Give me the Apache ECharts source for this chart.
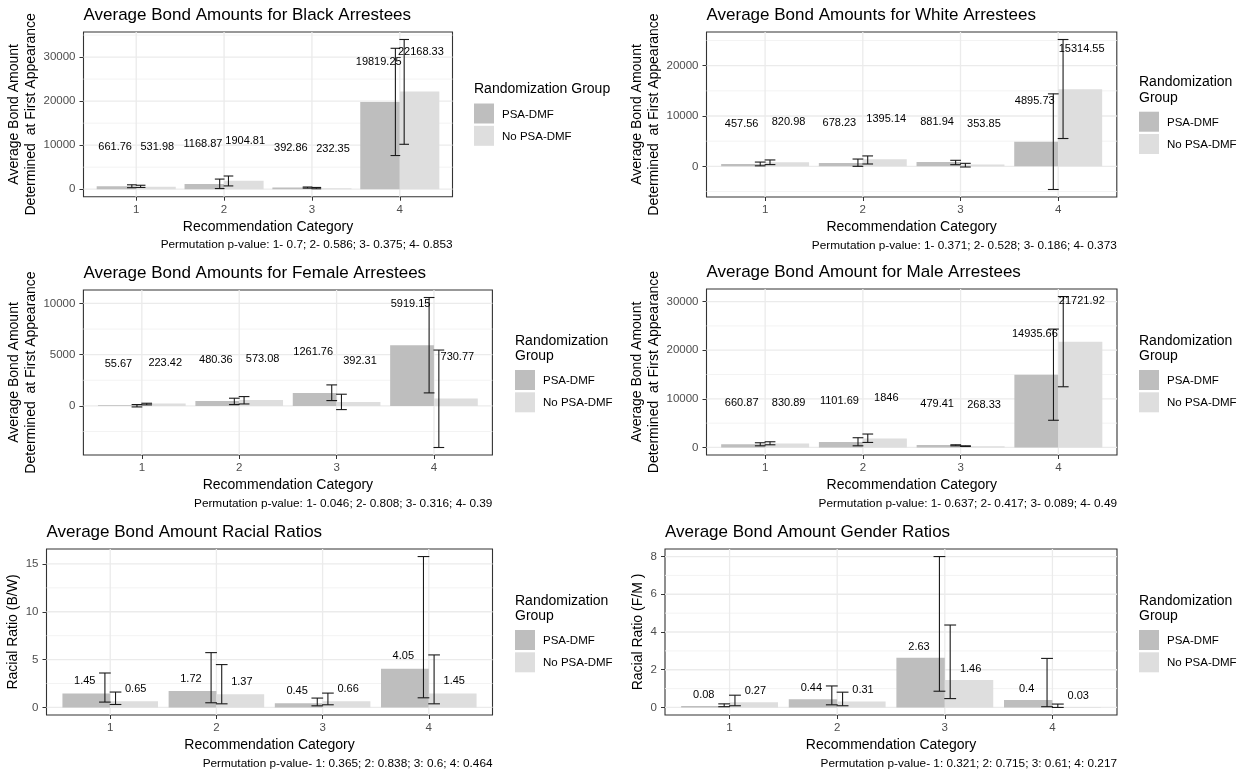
<!DOCTYPE html>
<html>
<head>
<meta charset="utf-8">
<title>Average Bond Amounts</title>
<script src="https://cdn.jsdelivr.net/npm/echarts@6/dist/echarts.min.js"></script>
<style>
  html, body { margin: 0; padding: 0; background: #ffffff; }
  #chart { width: 1245px; height: 774px; }
</style>
</head>
<body>
<div id="chart"></div>
<script>
// ---------------- data ----------------
const categories = [1, 2, 3, 4];
const groupNames = ['PSA-DMF', 'No PSA-DMF'];

// Black arrestees
const blackPsa = [661.76, 1168.87, 392.86, 19819.25];
const blackNoPsa = [531.98, 1904.81, 232.35, 22168.33];
const blackPsaLow = [350, 150, 250, 7650];
const blackPsaHigh = [1000, 2300, 500, 32000];
const blackNoPsaLow = [400, 750, 100, 10200];
const blackNoPsaHigh = [900, 3000, 400, 34000];
const blackTicks = [0, 10000, 20000, 30000];
const blackMinorTicks = [5000, 15000, 25000, 35000];

// White arrestees
const whitePsa = [457.56, 678.23, 881.94, 4895.73];
const whiteNoPsa = [820.98, 1395.14, 353.85, 15314.55];
const whitePsaLow = [100, 0, 330, -4600];
const whitePsaHigh = [850, 1450, 1200, 14400];
const whiteNoPsaLow = [350, 470, -130, 5530];
const whiteNoPsaHigh = [1270, 2070, 600, 25200];
const whiteTicks = [0, 10000, 20000];
const whiteMinorTicks = [-5000, 5000, 15000, 25000];

// Female arrestees
const femalePsa = [55.67, 480.36, 1261.76, 5919.15];
const femaleNoPsa = [223.42, 573.08, 392.31, 730.77];
const femalePsaLow = [-100, 130, 520, 1270];
const femalePsaHigh = [130, 750, 2050, 10580];
const femaleNoPsaLow = [100, 190, -360, -4060];
const femaleNoPsaHigh = [260, 910, 1140, 5450];
const femaleTicks = [0, 5000, 10000];
const femaleMinorTicks = [-2500, 2500, 7500];

// Male arrestees
const malePsa = [660.87, 1101.69, 479.41, 14935.66];
const maleNoPsa = [830.89, 1846, 268.33, 21721.92];
const malePsaLow = [340, 340, 340, 5590];
const malePsaHigh = [965, 2000, 550, 24340];
const maleNoPsaLow = [550, 1030, 200, 12480];
const maleNoPsaHigh = [1170, 2760, 340, 31030];
const maleTicks = [0, 10000, 20000, 30000];
const maleMinorTicks = [5000, 15000, 25000];

// Racial ratios (B/W)
const racialPsa = [1.45, 1.72, 0.45, 4.05];
const racialNoPsa = [0.65, 1.37, 0.66, 1.45];
const racialPsaLow = [0.56, 0.49, 0.17, 1.01];
const racialPsaHigh = [3.6, 5.73, 0.98, 15.77];
const racialNoPsaLow = [0.31, 0.38, 0.28, 0.38];
const racialNoPsaHigh = [1.61, 4.48, 1.5, 5.49];
const racialTicks = [0, 5, 10, 15];
const racialMinorTicks = [2.5, 7.5, 12.5];

// Gender ratios (F/M)
const genderPsa = [0.08, 0.44, 2.63, 0.4];
const genderNoPsa = [0.27, 0.31, 1.46, 0.03];
const genderPsaLow = [0.04, 0.14, 0.86, 0.04];
const genderPsaHigh = [0.19, 1.14, 8.0, 2.6];
const genderNoPsaLow = [0.09, 0.09, 0.47, 0.0];
const genderNoPsaHigh = [0.65, 0.81, 4.37, 0.18];
const genderTicks = [0, 2, 4, 6, 8];
const genderMinorTicks = [1, 3, 5, 7];

const panelTitles = [
  'Average Bond Amounts for Black Arrestees',
  'Average Bond Amounts for White Arrestees',
  'Average Bond Amounts for Female Arrestees',
  'Average Bond Amount for Male Arrestees',
  'Average Bond Amount Racial Ratios',
  'Average Bond Amount Gender Ratios'
];
const yAxisNames = [
  'Average Bond Amount\nDetermined  at First Appearance',
  'Average Bond Amount\nDetermined  at First Appearance',
  'Average Bond Amount\nDetermined  at First Appearance',
  'Average Bond Amount\nDetermined  at First Appearance',
  'Racial Ratio (B/W)',
  'Racial Ratio (F/M )'
];
const captions = [
  'Permutation p-value: 1- 0.7; 2- 0.586; 3- 0.375; 4- 0.853',
  'Permutation p-value: 1- 0.371; 2- 0.528; 3- 0.186; 4- 0.373',
  'Permutation p-value: 1- 0.046; 2- 0.808; 3- 0.316; 4- 0.39',
  'Permutation p-value: 1- 0.637; 2- 0.417; 3- 0.089; 4- 0.49',
  'Permutation p-value- 1: 0.365; 2: 0.838; 3: 0.6; 4: 0.464',
  'Permutation p-value- 1: 0.321; 2: 0.715; 3: 0.61; 4: 0.217'
];
const xAxisName = 'Recommendation Category';
const legendTitleOneLine = 'Randomization Group';
const legendTitleTwoLines = ['Randomization', 'Group'];

// ---------------- layout / style ----------------
const FONT = '"Liberation Sans", Arial, Helvetica, sans-serif';
const FILL = ['#BEBEBE', '#DEDEDE'];
const BAR_HALF = 0.45;      // dodged bar width per group (category units)
const ERR_SHIFT = 0.05;     // error bar dodge offset
const CAP_HALF = 0.055;     // half width of error bar caps
const LABEL_SHIFT = 0.24;   // text label horizontal offset

const panels = [
  { box: { left: 83.5, top: 32, width: 369, height: 164.7 }, nameGap: 41, labelLift: 9000,
    psa: blackPsa, noPsa: blackNoPsa, psaLow: blackPsaLow, psaHigh: blackPsaHigh,
    noLow: blackNoPsaLow, noHigh: blackNoPsaHigh, major: blackTicks, minor: blackMinorTicks,
    legend: { x: 474, titleY: [89.5], keyY: 103.5 } },
  { box: { left: 706.5, top: 32, width: 410.3, height: 165 }, nameGap: 39, labelLift: 8000,
    psa: whitePsa, noPsa: whiteNoPsa, psaLow: whitePsaLow, psaHigh: whitePsaHigh,
    noLow: whiteNoPsaLow, noHigh: whiteNoPsaHigh, major: whiteTicks, minor: whiteMinorTicks,
    legend: { x: 1139, titleY: [81.7, 97.7], keyY: 111.7 } },
  { box: { left: 83.4, top: 290, width: 409, height: 165 }, nameGap: 41, labelLift: 4000,
    psa: femalePsa, noPsa: femaleNoPsa, psaLow: femalePsaLow, psaHigh: femalePsaHigh,
    noLow: femaleNoPsaLow, noHigh: femaleNoPsaHigh, major: femaleTicks, minor: femaleMinorTicks,
    legend: { x: 515, titleY: [341, 356.5], keyY: 370 } },
  { box: { left: 706.5, top: 289, width: 410.5, height: 166 }, nameGap: 39, labelLift: 8400,
    psa: malePsa, noPsa: maleNoPsa, psaLow: malePsaLow, psaHigh: malePsaHigh,
    noLow: maleNoPsaLow, noHigh: maleNoPsaHigh, major: maleTicks, minor: maleMinorTicks,
    legend: { x: 1139, titleY: [341, 356.5], keyY: 370 } },
  { box: { left: 46.5, top: 549, width: 446, height: 166 }, nameGap: 21, labelLift: 1.28,
    psa: racialPsa, noPsa: racialNoPsa, psaLow: racialPsaLow, psaHigh: racialPsaHigh,
    noLow: racialNoPsaLow, noHigh: racialNoPsaHigh, major: racialTicks, minor: racialMinorTicks,
    legend: { x: 515, titleY: [601, 616.5], keyY: 630 } },
  { box: { left: 665, top: 549, width: 452, height: 166 }, nameGap: 16, labelLift: 0.6,
    psa: genderPsa, noPsa: genderNoPsa, psaLow: genderPsaLow, psaHigh: genderPsaHigh,
    noLow: genderNoPsaLow, noHigh: genderNoPsaHigh, major: genderTicks, minor: genderMinorTicks,
    legend: { x: 1139, titleY: [601, 616.5], keyY: 630 } }
];

// y range: data extent (incl. zero and error bars) expanded by 5% on each side
function yRange(p) {
  const lo = Math.min(0, ...p.psaLow, ...p.noLow, ...p.psa, ...p.noPsa);
  const hi = Math.max(...p.psaHigh, ...p.noHigh, ...p.psa, ...p.noPsa);
  const pad = (hi - lo) * 0.05;
  return [lo - pad, hi + pad];
}

function gridLinesRenderer(major, minor) {
  return function (params, api) {
    const cs = params.coordSys;
    const children = [];
    minor.forEach(function (v) {
      const y = api.coord([1, v])[1];
      children.push({ type: 'line', shape: { x1: cs.x, y1: y, x2: cs.x + cs.width, y2: y },
        style: { stroke: '#F2F2F2', lineWidth: 0.9 } });
    });
    major.forEach(function (v) {
      const y = api.coord([1, v])[1];
      children.push({ type: 'line', shape: { x1: cs.x, y1: y, x2: cs.x + cs.width, y2: y },
        style: { stroke: '#EBEBEB', lineWidth: 1.3 } });
    });
    categories.forEach(function (c) {
      const x = api.coord([c, 0])[0];
      children.push({ type: 'line', shape: { x1: x, y1: cs.y, x2: x, y2: cs.y + cs.height },
        style: { stroke: '#EBEBEB', lineWidth: 1.3 } });
    });
    return { type: 'group', children: children };
  };
}

function barRenderer(g) {
  return function (params, api) {
    const c = api.value(0), v = api.value(1);
    const x0 = c + (g === 0 ? -BAR_HALF : 0);
    const p0 = api.coord([x0, 0]);
    const p1 = api.coord([x0 + BAR_HALF, v]);
    return { type: 'rect',
      shape: { x: p0[0], y: Math.min(p0[1], p1[1]), width: p1[0] - p0[0], height: Math.abs(p0[1] - p1[1]) },
      style: { fill: FILL[g] } };
  };
}

function errRenderer(g) {
  return function (params, api) {
    const c = api.value(0), lo = api.value(1), hi = api.value(2);
    const xc = c + (g === 0 ? -ERR_SHIFT : ERR_SHIFT);
    const a = api.coord([xc, lo]), b = api.coord([xc, hi]);
    const l = api.coord([xc - CAP_HALF, lo])[0], r = api.coord([xc + CAP_HALF, lo])[0];
    const st = { stroke: '#1A1A1A', lineWidth: 1.1 };
    return { type: 'group', children: [
      { type: 'line', shape: { x1: a[0], y1: a[1], x2: b[0], y2: b[1] }, style: st },
      { type: 'line', shape: { x1: l, y1: a[1], x2: r, y2: a[1] }, style: st },
      { type: 'line', shape: { x1: l, y1: b[1], x2: r, y2: b[1] }, style: st }
    ] };
  };
}

function labelRenderer(g, lift) {
  return function (params, api) {
    const c = api.value(0), v = api.value(1);
    const p = api.coord([c + (g === 0 ? -LABEL_SHIFT : LABEL_SHIFT), v + lift]);
    return { type: 'text', x: p[0], y: p[1],
      style: { text: String(v), fill: '#000000', fontSize: 11, fontFamily: FONT,
        align: 'center', verticalAlign: 'middle' } };
  };
}

function plainNumber(v) { return String(v); }

const grids = [], xAxes = [], yAxes = [], series = [], graphics = [];

panels.forEach(function (p, i) {
  const b = p.box;
  const range = yRange(p);
  grids.push({ left: b.left, top: b.top, width: b.width, height: b.height,
    show: true, borderColor: '#333333', borderWidth: 1.1, backgroundColor: 'transparent',
    containLabel: false });

  xAxes.push({ type: 'value', gridIndex: i, min: 0.4, max: 4.6,
    axisLine: { show: false, onZero: false },
    splitLine: { show: false },
    axisTick: { show: true, customValues: categories, length: 4, lineStyle: { color: '#333333', width: 1 } },
    axisLabel: { customValues: categories, formatter: plainNumber, color: '#4D4D4D',
      fontSize: 11.5, fontFamily: FONT, margin: 7 },
    name: xAxisName, nameLocation: 'middle', nameGap: 22,
    nameTextStyle: { color: '#000000', fontSize: 14, fontFamily: FONT, lineHeight: 16 } });

  yAxes.push({ type: 'value', gridIndex: i, min: range[0], max: range[1],
    axisLine: { show: false, onZero: false },
    splitLine: { show: false },
    axisTick: { show: true, customValues: p.major, length: 4, lineStyle: { color: '#333333', width: 1 } },
    axisLabel: { customValues: p.major, formatter: plainNumber, color: '#4D4D4D',
      fontSize: 11.5, fontFamily: FONT, margin: 8 },
    name: yAxisNames[i], nameLocation: 'middle', nameGap: p.nameGap,
    nameTextStyle: { color: '#000000', fontSize: 14, fontFamily: FONT, lineHeight: 17 } });

  series.push({ type: 'custom', xAxisIndex: i, yAxisIndex: i, silent: true, z: 1,
    data: [[1, 0]], renderItem: gridLinesRenderer(p.major, p.minor) });

  const values = [p.psa, p.noPsa];
  const lows = [p.psaLow, p.noLow];
  const highs = [p.psaHigh, p.noHigh];
  [0, 1].forEach(function (g) {
    series.push({ type: 'custom', name: groupNames[g], xAxisIndex: i, yAxisIndex: i, z: 2,
      encode: { x: 0, y: 1 },
      data: categories.map(function (c, k) { return [c, values[g][k]]; }),
      renderItem: barRenderer(g) });
  });
  [0, 1].forEach(function (g) {
    series.push({ type: 'custom', xAxisIndex: i, yAxisIndex: i, z: 3, silent: true,
      encode: { x: 0, y: [1, 2] },
      data: categories.map(function (c, k) { return [c, lows[g][k], highs[g][k]]; }),
      renderItem: errRenderer(g) });
  });
  [0, 1].forEach(function (g) {
    series.push({ type: 'custom', xAxisIndex: i, yAxisIndex: i, z: 4, silent: true,
      encode: { x: 0, y: 1 },
      data: categories.map(function (c, k) { return [c, values[g][k]]; }),
      renderItem: labelRenderer(g, p.labelLift) });
  });

  // panel title
  graphics.push({ type: 'text', x: b.left, y: b.top - 16.5,
    style: { text: panelTitles[i], fill: '#000000', fontSize: 17, fontFamily: FONT,
      align: 'left', verticalAlign: 'middle' } });
  // caption under the x axis title
  graphics.push({ type: 'text', x: b.left + b.width, y: b.top + b.height + 48.5,
    style: { text: captions[i], fill: '#000000', fontSize: 11.8, fontFamily: FONT,
      align: 'right', verticalAlign: 'middle' } });

  // legend
  const lg = p.legend;
  const titleLines = lg.titleY.length === 1 ? [legendTitleOneLine] : legendTitleTwoLines;
  titleLines.forEach(function (t, k) {
    graphics.push({ type: 'text', x: lg.x, y: lg.titleY[k],
      style: { text: t, fill: '#000000', fontSize: 14, fontFamily: FONT,
        align: 'left', verticalAlign: 'middle' } });
  });
  groupNames.forEach(function (name, g) {
    const ky = lg.keyY + g * 22.3;
    graphics.push({ type: 'rect', shape: { x: lg.x, y: ky, width: 20, height: 20 },
      style: { fill: FILL[g] } });
    graphics.push({ type: 'text', x: lg.x + 28, y: ky + 11,
      style: { text: name, fill: '#000000', fontSize: 11.5, fontFamily: FONT,
        align: 'left', verticalAlign: 'middle' } });
  });
});

const chart = echarts.init(document.getElementById('chart'));
chart.setOption({
  animation: false,
  backgroundColor: '#ffffff',
  grid: grids,
  xAxis: xAxes,
  yAxis: yAxes,
  series: series,
  graphic: { elements: graphics }
});
</script>
</body>
</html>
